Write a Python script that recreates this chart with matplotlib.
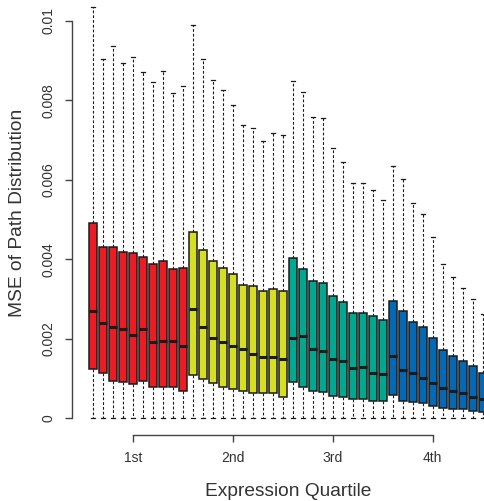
import matplotlib.pyplot as plt

# values (40 boxes, 10 per expression quartile)
whisk_hi = [0.01034, 0.009044, 0.009356, 0.008944, 0.009095, 0.008710, 0.008466, 0.008735, 0.008174, 0.008365,
            0.009892, 0.009037, 0.008509, 0.008257, 0.007887, 0.007384, 0.007301, 0.006974, 0.007183, 0.007125,
            0.008491, 0.008199, 0.007570, 0.007545, 0.006791, 0.006454, 0.005910, 0.005910, 0.005742, 0.005490,
            0.006346, 0.006019, 0.005423, 0.005138, 0.004552, 0.003881, 0.003554, 0.003285, 0.003000, 0.002631]
q3 = [0.004904, 0.004316, 0.004316, 0.004175, 0.004165, 0.004064, 0.003881, 0.003964, 0.003748, 0.003773,
      0.004693, 0.004233, 0.003949, 0.003773, 0.003629, 0.003360, 0.003320, 0.003202, 0.003252, 0.003202,
      0.004024, 0.003755, 0.003453, 0.003410, 0.003068, 0.002918, 0.002648, 0.002648, 0.002580, 0.002465,
      0.002950, 0.002691, 0.002414, 0.002296, 0.002020, 0.001710, 0.001574, 0.001449, 0.001323, 0.001147]
med = [0.002691, 0.002389, 0.002289, 0.002254, 0.002095, 0.002238, 0.001911, 0.001944, 0.001952, 0.001826,
       0.002741, 0.002296, 0.002012, 0.001919, 0.001818, 0.001735, 0.001617, 0.001534, 0.001534, 0.001484,
       0.002027, 0.002062, 0.001743, 0.001700, 0.001491, 0.001449, 0.001273, 0.001290, 0.001147, 0.001122,
       0.001574, 0.001222, 0.001147, 0.001006, 0.000880, 0.000755, 0.000694, 0.000636, 0.000543, 0.000478]
q1 = [0.001247, 0.001132, 0.000946, 0.000921, 0.000863, 0.000946, 0.000795, 0.000780, 0.000795, 0.000679,
      0.001089, 0.000988, 0.000895, 0.000780, 0.000744, 0.000679, 0.000644, 0.000629, 0.000629, 0.000543,
      0.000905, 0.000787, 0.000679, 0.000654, 0.000553, 0.000528, 0.000478, 0.000478, 0.000428, 0.000428,
      0.000586, 0.000428, 0.000402, 0.000377, 0.000302, 0.000252, 0.000234, 0.000226, 0.000191, 0.000158]
whisk_lo = [0.0] * 40

quartiles = ["1st", "2nd", "3rd", "4th"]
quartile_pos = [5, 15, 25, 35]
colors = ["#EC1C24", "#D7DF23", "#00A88F", "#0469B5"]
per_group = 10

plt.rcParams['font.family'] = ['Liberation Sans', 'DejaVu Sans']

fig = plt.figure(figsize=(4.84, 5.01), dpi=100)
# plot region like R's: extends a bit past the right and top edges of the picture
ax = fig.add_axes([71.7 / 484, 66.3 / 501, 432 / 484, 443.8 / 501])

stats = []
for i in range(40):
    stats.append(dict(whislo=whisk_lo[i], q1=q1[i], med=med[i], q3=q3[i], whishi=whisk_hi[i]))

pos = list(range(1, 41))
bp = ax.bxp(stats, positions=pos, widths=0.8, capwidths=0.4, showfliers=False, patch_artist=True,
            boxprops=dict(edgecolor="#1a1a1a", linewidth=1.1),
            medianprops=dict(color="#1a1a1a", linewidth=2.2, solid_capstyle="butt"),
            whiskerprops=dict(color="#1a1a1a", linewidth=0.8, linestyle=(0, (2.5, 1.8))),
            capprops=dict(color="#1a1a1a", linewidth=0.9))
for i, b in enumerate(bp["boxes"]):
    b.set_facecolor(colors[i // per_group])

ax.set_xlim(-1.1, 42.1)
ax.set_ylim(-0.000413, 0.01075)

for s in ["top", "right"]:
    ax.spines[s].set_visible(False)
ax.spines["left"].set_bounds(0, 0.01)
ax.spines["bottom"].set_bounds(quartile_pos[0], quartile_pos[-1])
for s in ["left", "bottom"]:
    ax.spines[s].set_color("#444444")
    ax.spines[s].set_linewidth(1.0)

ax.set_yticks([0, 0.002, 0.004, 0.006, 0.008, 0.01])
ax.set_yticklabels(["0", "0.002", "0.004", "0.006", "0.008", "0.01"], rotation=90, va="center")
ax.set_xticks(quartile_pos)
ax.set_xticklabels(quartiles)
ax.tick_params(axis="both", length=5, width=1.0, color="#444444", labelsize=10, labelcolor="#333333")
ax.tick_params(axis="y", pad=7)
ax.tick_params(axis="x", pad=6.5)

ax.set_xlabel("Expression Quartile", fontsize=13.8, color="#333333", labelpad=13)
ax.set_ylabel("MSE of Path Distribution", fontsize=13.8, color="#333333", labelpad=10.5)

fig.savefig("out.png", dpi=100)
